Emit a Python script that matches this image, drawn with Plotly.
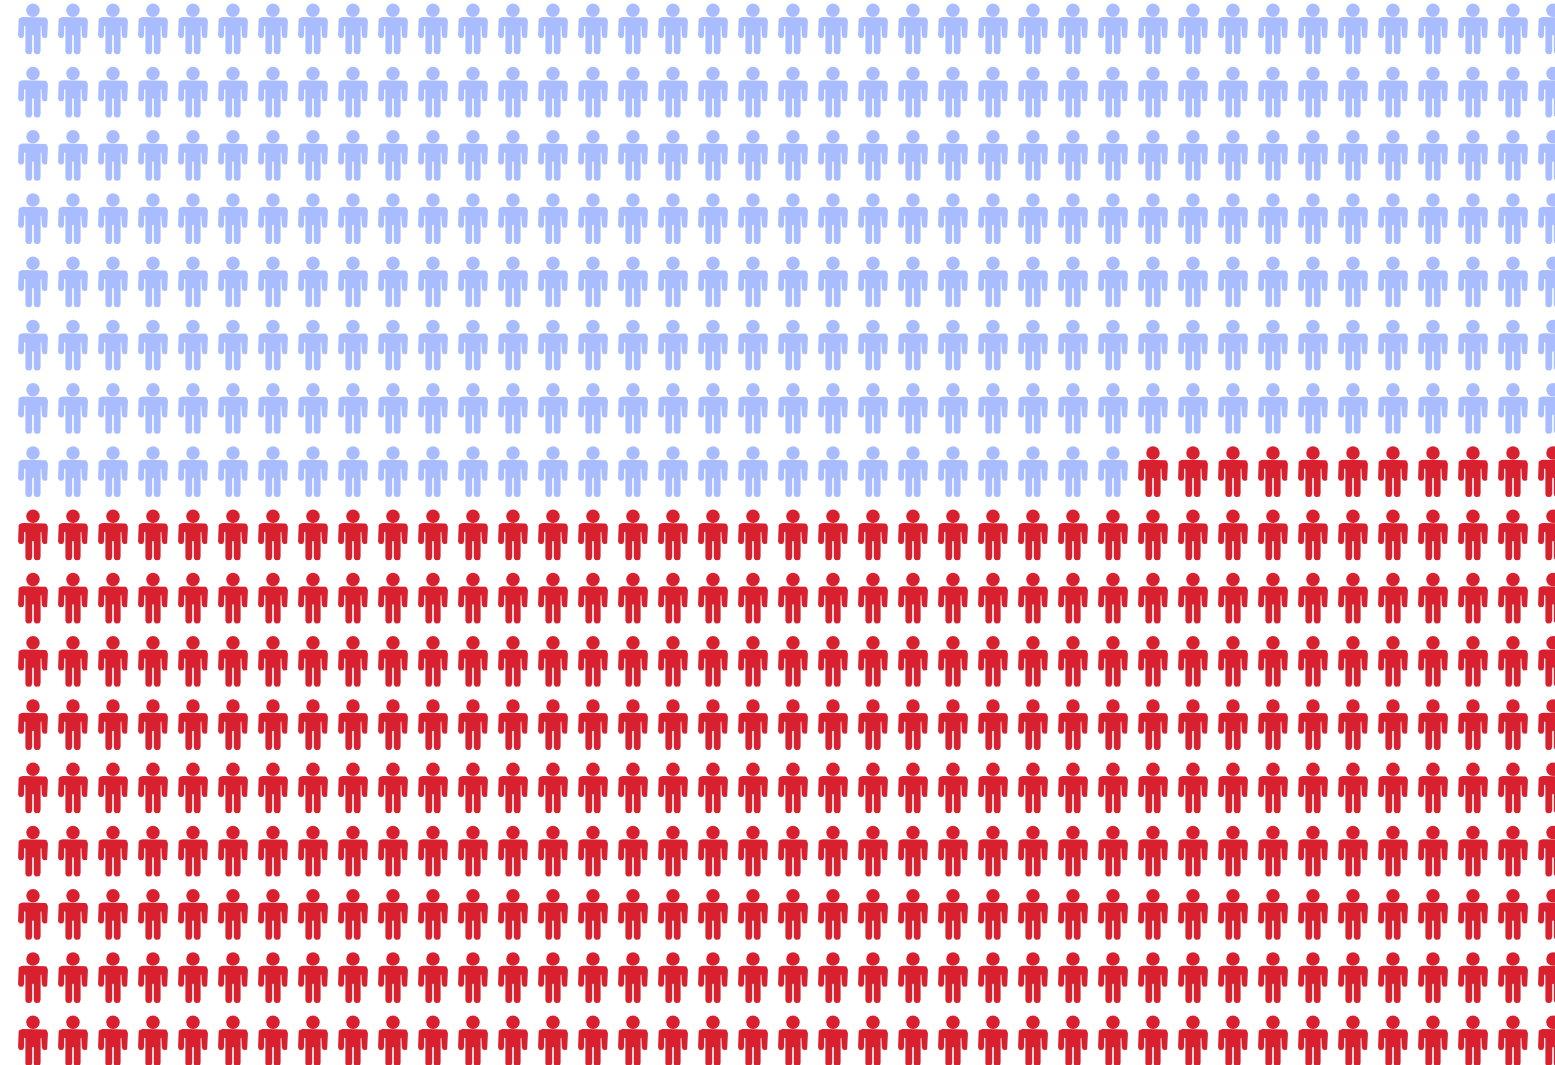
import math
import plotly.graph_objects as go

# Data
categories = ["Blue group", "Red group"]
counts = [301, 362]
colors = ["#a8bcff", "#d9202e"]
columns = 39
rows = 17

# Layout, in pixels
W, H = 1555, 1065
X0, DX = 33.0, 40.0
Y0, DY = 10.3, 63.25
HEAD_D = 13.5


def rounded(points, radii, n=6):
    """Polygon with rounded corners."""
    out = []
    m = len(points)
    for i, (p, r) in enumerate(zip(points, radii)):
        a, b = points[i - 1], points[(i + 1) % m]
        if r == 0:
            out.append(p)
            continue
        la, lb = math.dist(a, p), math.dist(b, p)
        s = ((p[0] + (a[0] - p[0]) * r / la), (p[1] + (a[1] - p[1]) * r / la))
        e = ((p[0] + (b[0] - p[0]) * r / lb), (p[1] + (b[1] - p[1]) * r / lb))
        for k in range(n + 1):
            t = k / n
            out.append(((1 - t) ** 2 * s[0] + 2 * t * (1 - t) * p[0] + t * t * e[0],
                        (1 - t) ** 2 * s[1] + 2 * t * (1 - t) * p[1] + t * t * e[1]))
    return out


# Person body outline, pixel offsets from the head centre
body_pts = [
    (-0.8, 24.7), (-0.8, 44.0), (-7.6, 44.0), (-7.6, 15.5), (-8.9, 15.5),
    (-8.9, 27.8), (-14.9, 27.8), (-14.9, 6.7), (14.9, 6.7), (14.9, 27.8), (8.9, 27.8),
    (8.9, 15.5), (7.6, 15.5), (7.6, 44.0), (0.8, 44.0), (0.8, 24.7),
]
body_rad = [0.6, 3.4, 3.4, 0.6, 0.6, 3.0, 3.0, 5.0, 5.0, 3.0, 3.0, 0.6, 0.6, 3.4, 3.4, 0.6]
body = rounded(body_pts, body_rad)

cells = [(r, c) for r in range(rows) for c in range(columns)]
fig = go.Figure()
start = 0
for name, n, col in zip(categories, counts, colors):
    group = cells[start:start + n]
    start += n
    xs, ys = [], []
    for r, c in group:
        xs += [c + dx / DX for dx, _ in body] + [c + body[0][0] / DX, None]
        ys += [r + dy / DY for _, dy in body] + [r + body[0][1] / DY, None]
    fig.add_trace(go.Scatter(x=xs, y=ys, mode="lines", fill="toself", fillcolor=col,
                             line=dict(width=0, color=col), name=name,
                             hoverinfo="skip", showlegend=False))
    fig.add_trace(go.Scatter(x=[c for _, c in group], y=[r for r, _ in group], mode="markers",
                             marker=dict(symbol="circle", size=HEAD_D, color=col, line=dict(width=0)),
                             name=name, hoverinfo="name", showlegend=False))

fig.update_layout(
    width=W, height=H, margin=dict(l=0, r=0, t=0, b=0),
    paper_bgcolor="white", plot_bgcolor="white", showlegend=False,
    xaxis=dict(visible=False, range=[-X0 / DX, (W - X0) / DX], fixedrange=True),
    yaxis=dict(visible=False, range=[(H - Y0) / DY, -Y0 / DY], fixedrange=True),
)
fig.write_html("out.html", post_script="document.body.style.margin='0';document.body.style.overflow='hidden';",
               config={"displayModeBar": False})
